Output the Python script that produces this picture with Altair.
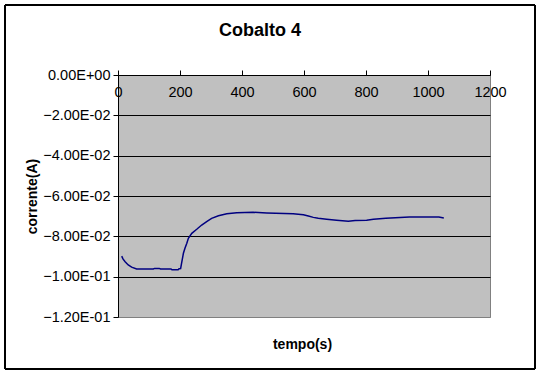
import altair as alt
import pandas as pd

time_s = [12, 16, 23, 33, 44, 60, 114, 118, 133, 137, 171, 174, 194, 197, 202, 205, 211,
          216, 222, 227, 238, 254, 270, 286, 302, 324, 351, 383, 436, 480, 565, 598,
          614, 630, 646, 673, 705, 743, 765, 802, 824, 864, 940, 1035, 1051]
current_a = [-0.0898, -0.0912, -0.0926, -0.0942, -0.0953, -0.0962, -0.0962, -0.0959,
             -0.0959, -0.0962, -0.0962, -0.0966, -0.0966, -0.0961, -0.0960, -0.0934,
             -0.0884, -0.0859, -0.0834, -0.0810, -0.0785, -0.0765, -0.0744, -0.0727,
             -0.0711, -0.0698, -0.0688, -0.0683, -0.0681, -0.0684, -0.0688, -0.0693,
             -0.0699, -0.0706, -0.0710, -0.0715, -0.0720, -0.0725, -0.0722, -0.0720,
             -0.0715, -0.0710, -0.0704, -0.0704, -0.0709]
x_ticks = [0, 200, 400, 600, 800, 1000, 1200]
y_ticks = [0, -0.02, -0.04, -0.06, -0.08, -0.10, -0.12]

df = pd.DataFrame({"tempo": time_s, "corrente": current_a})
FONT = "Arial, Liberation Sans"

line = alt.Chart(df).mark_line(color="#000080", strokeWidth=1.5).encode(
    x=alt.X("tempo:Q",
            scale=alt.Scale(domain=[0, 1200], nice=False),
            axis=alt.Axis(orient="top", values=x_ticks, grid=False, tickSize=5,
                          format="d",
                          tickColor="black", domainColor="black", labelColor="black",
                          labelFont=FONT, labelFontSize=14.5, labelBaseline="top",
                          labelPadding=-15, labelFlush=False, labelOverlap=False,
                          title="tempo(s)", titleFont=FONT, titleFontSize=14,
                          titleFontWeight="bold", titleColor="black",
                          titleX=184, titleY=269, titleBaseline="middle",
                          titleAlign="center")),
    y=alt.Y("corrente:Q",
            scale=alt.Scale(domain=[-0.12, 0], nice=False),
            axis=alt.Axis(values=y_ticks, grid=True,
                          gridColor=alt.condition("datum.value < -0.11",
                                                  alt.value("#808080"),
                                                  alt.value("black")),
                          gridOpacity=1,
                          gridWidth=1, tickSize=5, tickColor="black",
                          domainColor="black", labelColor="black", labelFont=FONT,
                          labelFontSize=14.5, labelPadding=3, labelFlush=False,
                          labelOverlap=False,
                          labelExpr="replace(replace(format(datum.value, '.2e'), 'e-', 'E-0'), 'e+', 'E+0')",
                          title="corrente(A)", titleFont=FONT, titleFontSize=14,
                          titleFontWeight="bold", titleColor="black", titleAngle=-90,
                          titleX=-86, titleY=121, titleBaseline="middle",
                          titleAlign="center")),
)

border = alt.Chart(df).mark_rect(fill=None, stroke="black", strokeWidth=1).encode(
    x=alt.value(-113), x2=alt.value(417), y=alt.value(-70), y2=alt.value(294)
)

chart = alt.layer(line, border).properties(
    width=372, height=242,
    autosize=alt.AutoSizeParams(type="none"),
    padding={"left": 118, "top": 75, "right": 52, "bottom": 58},
    title=alt.TitleParams("Cobalto 4", font=FONT, fontSize=18, fontWeight="bold",
                          color="black", anchor="middle", dx=-44, offset=0,
                          baseline="bottom", dy=53),
).configure(background="white").configure_view(
    fill="#C0C0C0", stroke="#808080", strokeWidth=1
)

chart.save("out.html", embed_options={"renderer": "svg", "actions": False})
